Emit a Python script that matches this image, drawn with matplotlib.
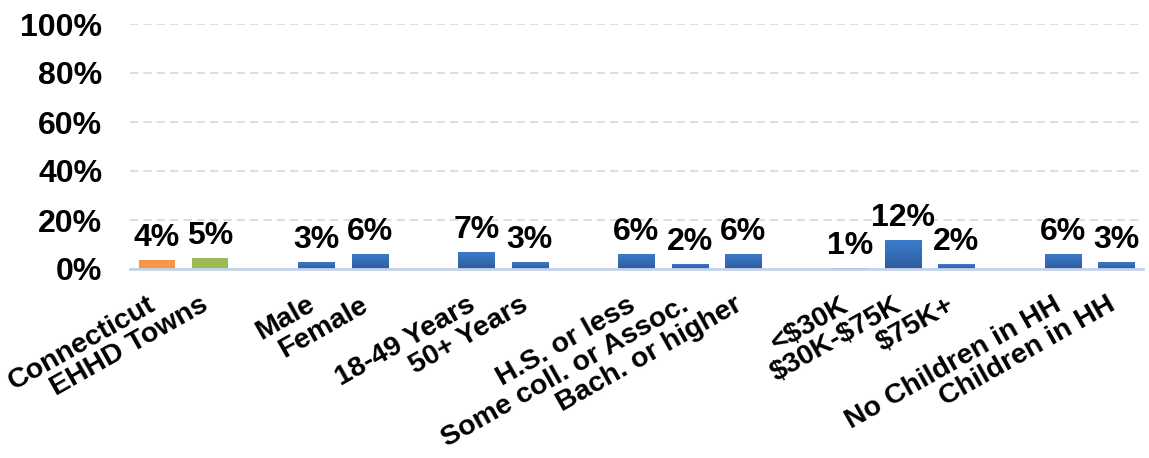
import matplotlib
matplotlib.use("Agg")
import numpy as np
import matplotlib.pyplot as plt
from matplotlib.colors import LinearSegmentedColormap

plt.rcParams['font.family'] = ['Liberation Sans', 'DejaVu Sans']
plt.rcParams['font.weight'] = 'bold'
plt.rcParams['text.parse_math'] = False   # labels contain "$"

# categories, with an empty slot between groups
categories = ['Connecticut', 'EHHD Towns', '',
              'Male', 'Female', '',
              '18-49 Years', '50+ Years', '',
              'H.S. or less', 'Some coll. or Assoc.', 'Bach. or higher', '',
              '<$30K', '$30K-$75K', '$75K+', '',
              'No Children in HH', 'Children in HH']
values = [0.036, 0.046, None,
          0.030, 0.063, None,
          0.070, 0.030, None,
          0.062, 0.022, 0.062, None,
          0.006, 0.118, 0.020, None,
          0.062, 0.030]
colors = ['#F79646', '#9BBB59', None,
          'blue', 'blue', None,
          'blue', 'blue', None,
          'blue', 'blue', 'blue', None,
          'blue', 'blue', 'blue', None,
          'blue', 'blue']

blue_grad = LinearSegmentedColormap.from_list('bg', ['#2E5D9E', '#3D7CCC'])

fig = plt.figure(figsize=(11.49, 4.58), dpi=100)
ax = fig.add_axes([130 / 1149, 1 - 269 / 458, 1013 / 1149, 245 / 458])

w = 0.68
for i, (v, c) in enumerate(zip(values, colors)):
    if v is None:
        continue
    if c == 'blue':
        bar = ax.bar(i, v, width=w, color='none', zorder=3)[0]
        im = ax.imshow(np.linspace(0, 1, 50).reshape(-1, 1), cmap=blue_grad,
                       origin='lower', aspect='auto',
                       extent=(i - w / 2, i + w / 2, 0, v), zorder=3)
        im.set_clip_path(bar)
    else:
        ax.bar(i, v, width=w, color=c, zorder=3)
    ax.annotate(f"{round(v * 100):d}%", (i, v), xytext=(0, 14),
                textcoords='offset pixels', ha='center', va='baseline',
                fontsize=23, fontweight='bold', zorder=4)

ax.set_xlim(-0.5, len(categories) - 0.5)
ax.set_ylim(0, 1)
ax.set_yticks([0, 0.2, 0.4, 0.6, 0.8, 1.0])
ax.set_yticklabels(['0%', '20%', '40%', '60%', '80%', '100%'],
                   fontsize=23, fontweight='bold')
ax.yaxis.grid(True, color='#C9DAEE', linestyle=(0, (5, 3)), linewidth=1.2, zorder=0)
ax.tick_params(axis='y', length=0, pad=20)

ax.set_xticks(range(len(categories)))
ax.set_xticklabels(categories, rotation=29.5, ha='right', va='baseline',
                   rotation_mode='anchor', fontsize=20.5, fontweight='bold')
ax.tick_params(axis='x', length=0, pad=29)

for s in ['top', 'right', 'left']:
    ax.spines[s].set_visible(False)
ax.spines['bottom'].set_color('#C5D3E8')
ax.spines['bottom'].set_linewidth(2)
ax.spines['bottom'].set_zorder(5)

fig.savefig('out.png', dpi=100)
